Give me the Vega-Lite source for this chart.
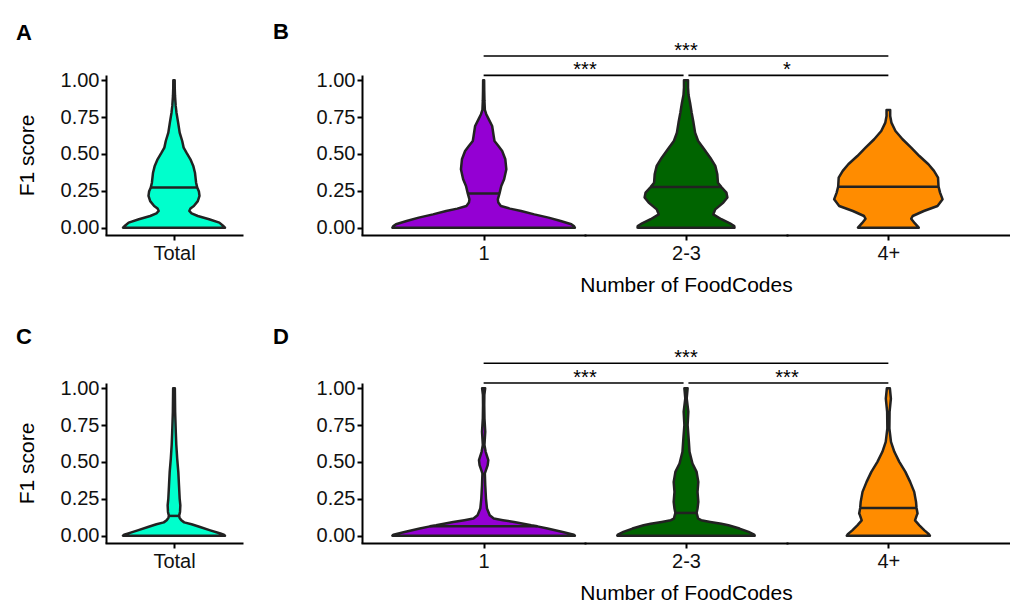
{
  "$schema": "https://vega.github.io/schema/vega-lite/v6.json",
  "background": "white",
  "padding": {"left": 16, "top": 21, "right": 0, "bottom": 0},
  "config": {
    "view": {"stroke": null},
    "font": "Liberation Sans",
    "axis": {"domainColor": "#000", "domainWidth": 2, "tickColor": "#000", "tickWidth": 2, "tickSize": 5, "labelFont": "Liberation Sans", "labelFontSize": 20, "labelColor": "#111", "labelPadding": 2, "titleFont": "Liberation Sans", "titleFontSize": 21, "titleFontWeight": "normal", "titleColor": "#000", "grid": false},
    "axisY": {"titlePadding": 23},
    "axisX": {"labelPadding": 3, "titlePadding": 11, "domainCap": "square"},
    "title": {"fontSize": 22, "fontWeight": "bold", "anchor": "start", "baseline": "alphabetic", "color": "#000", "font": "Liberation Sans"}
  },
  "datasets": {
    "violins": [
      {"panel": "A", "group": "Total", "f1": 0, "density": 0.9, "kind": "outline"},
      {"panel": "A", "group": "Total", "f1": 0.015, "density": 0.86, "kind": "outline"},
      {"panel": "A", "group": "Total", "f1": 0.034, "density": 0.8, "kind": "outline"},
      {"panel": "A", "group": "Total", "f1": 0.057, "density": 0.62, "kind": "outline"},
      {"panel": "A", "group": "Total", "f1": 0.079, "density": 0.42, "kind": "outline"},
      {"panel": "A", "group": "Total", "f1": 0.097, "density": 0.31, "kind": "outline"},
      {"panel": "A", "group": "Total", "f1": 0.113, "density": 0.27, "kind": "outline"},
      {"panel": "A", "group": "Total", "f1": 0.13, "density": 0.29, "kind": "outline"},
      {"panel": "A", "group": "Total", "f1": 0.147, "density": 0.35, "kind": "outline"},
      {"panel": "A", "group": "Total", "f1": 0.18, "density": 0.42, "kind": "outline"},
      {"panel": "A", "group": "Total", "f1": 0.215, "density": 0.45, "kind": "outline"},
      {"panel": "A", "group": "Total", "f1": 0.245, "density": 0.44, "kind": "outline"},
      {"panel": "A", "group": "Total", "f1": 0.2716, "density": 0.41, "kind": "median"},
      {"panel": "A", "group": "Total", "f1": 0.305, "density": 0.39, "kind": "outline"},
      {"panel": "A", "group": "Total", "f1": 0.373, "density": 0.37, "kind": "outline"},
      {"panel": "A", "group": "Total", "f1": 0.419, "density": 0.34, "kind": "outline"},
      {"panel": "A", "group": "Total", "f1": 0.464, "density": 0.29, "kind": "outline"},
      {"panel": "A", "group": "Total", "f1": 0.509, "density": 0.22, "kind": "outline"},
      {"panel": "A", "group": "Total", "f1": 0.543, "density": 0.17, "kind": "outline"},
      {"panel": "A", "group": "Total", "f1": 0.588, "density": 0.145, "kind": "outline"},
      {"panel": "A", "group": "Total", "f1": 0.645, "density": 0.1, "kind": "outline"},
      {"panel": "A", "group": "Total", "f1": 0.713, "density": 0.073, "kind": "outline"},
      {"panel": "A", "group": "Total", "f1": 0.78, "density": 0.044, "kind": "outline"},
      {"panel": "A", "group": "Total", "f1": 0.826, "density": 0.03, "kind": "outline"},
      {"panel": "A", "group": "Total", "f1": 0.894, "density": 0.018, "kind": "outline"},
      {"panel": "A", "group": "Total", "f1": 0.95, "density": 0.013, "kind": "outline"},
      {"panel": "A", "group": "Total", "f1": 1, "density": 0.012, "kind": "outline"},

      {"panel": "B", "group": "1", "f1": 0, "density": 0.9, "kind": "outline"},
      {"panel": "B", "group": "1", "f1": 0.011, "density": 0.89, "kind": "outline"},
      {"panel": "B", "group": "1", "f1": 0.023, "density": 0.865, "kind": "outline"},
      {"panel": "B", "group": "1", "f1": 0.045, "density": 0.76, "kind": "outline"},
      {"panel": "B", "group": "1", "f1": 0.068, "density": 0.64, "kind": "outline"},
      {"panel": "B", "group": "1", "f1": 0.09, "density": 0.5, "kind": "outline"},
      {"panel": "B", "group": "1", "f1": 0.113, "density": 0.37, "kind": "outline"},
      {"panel": "B", "group": "1", "f1": 0.129, "density": 0.26, "kind": "outline"},
      {"panel": "B", "group": "1", "f1": 0.147, "density": 0.17, "kind": "outline"},
      {"panel": "B", "group": "1", "f1": 0.17, "density": 0.145, "kind": "outline"},
      {"panel": "B", "group": "1", "f1": 0.192, "density": 0.14, "kind": "outline"},
      {"panel": "B", "group": "1", "f1": 0.231, "density": 0.156, "kind": "median"},
      {"panel": "B", "group": "1", "f1": 0.283, "density": 0.174, "kind": "outline"},
      {"panel": "B", "group": "1", "f1": 0.328, "density": 0.202, "kind": "outline"},
      {"panel": "B", "group": "1", "f1": 0.396, "density": 0.224, "kind": "outline"},
      {"panel": "B", "group": "1", "f1": 0.464, "density": 0.214, "kind": "outline"},
      {"panel": "B", "group": "1", "f1": 0.52, "density": 0.183, "kind": "outline"},
      {"panel": "B", "group": "1", "f1": 0.554, "density": 0.146, "kind": "outline"},
      {"panel": "B", "group": "1", "f1": 0.588, "density": 0.107, "kind": "outline"},
      {"panel": "B", "group": "1", "f1": 0.622, "density": 0.099, "kind": "outline"},
      {"panel": "B", "group": "1", "f1": 0.69, "density": 0.084, "kind": "outline"},
      {"panel": "B", "group": "1", "f1": 0.735, "density": 0.051, "kind": "outline"},
      {"panel": "B", "group": "1", "f1": 0.77, "density": 0.026, "kind": "outline"},
      {"panel": "B", "group": "1", "f1": 0.8, "density": 0.012, "kind": "outline"},
      {"panel": "B", "group": "1", "f1": 0.86, "density": 0.008, "kind": "outline"},
      {"panel": "B", "group": "1", "f1": 0.93, "density": 0.006, "kind": "outline"},
      {"panel": "B", "group": "1", "f1": 1, "density": 0.005, "kind": "outline"},

      {"panel": "B", "group": "2-3", "f1": 0, "density": 0.48, "kind": "outline"},
      {"panel": "B", "group": "2-3", "f1": 0.011, "density": 0.478, "kind": "outline"},
      {"panel": "B", "group": "2-3", "f1": 0.029, "density": 0.435, "kind": "outline"},
      {"panel": "B", "group": "2-3", "f1": 0.057, "density": 0.35, "kind": "outline"},
      {"panel": "B", "group": "2-3", "f1": 0.09, "density": 0.27, "kind": "outline"},
      {"panel": "B", "group": "2-3", "f1": 0.124, "density": 0.29, "kind": "outline"},
      {"panel": "B", "group": "2-3", "f1": 0.17, "density": 0.37, "kind": "outline"},
      {"panel": "B", "group": "2-3", "f1": 0.204, "density": 0.41, "kind": "outline"},
      {"panel": "B", "group": "2-3", "f1": 0.238, "density": 0.4, "kind": "outline"},
      {"panel": "B", "group": "2-3", "f1": 0.276, "density": 0.35, "kind": "median"},
      {"panel": "B", "group": "2-3", "f1": 0.305, "density": 0.316, "kind": "outline"},
      {"panel": "B", "group": "2-3", "f1": 0.362, "density": 0.31, "kind": "outline"},
      {"panel": "B", "group": "2-3", "f1": 0.419, "density": 0.29, "kind": "outline"},
      {"panel": "B", "group": "2-3", "f1": 0.475, "density": 0.24, "kind": "outline"},
      {"panel": "B", "group": "2-3", "f1": 0.532, "density": 0.18, "kind": "outline"},
      {"panel": "B", "group": "2-3", "f1": 0.588, "density": 0.12, "kind": "outline"},
      {"panel": "B", "group": "2-3", "f1": 0.645, "density": 0.09, "kind": "outline"},
      {"panel": "B", "group": "2-3", "f1": 0.713, "density": 0.074, "kind": "outline"},
      {"panel": "B", "group": "2-3", "f1": 0.78, "density": 0.056, "kind": "outline"},
      {"panel": "B", "group": "2-3", "f1": 0.848, "density": 0.04, "kind": "outline"},
      {"panel": "B", "group": "2-3", "f1": 0.9, "density": 0.025, "kind": "outline"},
      {"panel": "B", "group": "2-3", "f1": 0.95, "density": 0.02, "kind": "outline"},
      {"panel": "B", "group": "2-3", "f1": 1, "density": 0.02, "kind": "outline"},

      {"panel": "B", "group": "4+", "f1": 0, "density": 0.3, "kind": "outline"},
      {"panel": "B", "group": "4+", "f1": 0.03, "density": 0.26, "kind": "outline"},
      {"panel": "B", "group": "4+", "f1": 0.06, "density": 0.225, "kind": "outline"},
      {"panel": "B", "group": "4+", "f1": 0.079, "density": 0.24, "kind": "outline"},
      {"panel": "B", "group": "4+", "f1": 0.113, "density": 0.35, "kind": "outline"},
      {"panel": "B", "group": "4+", "f1": 0.147, "density": 0.485, "kind": "outline"},
      {"panel": "B", "group": "4+", "f1": 0.192, "density": 0.535, "kind": "outline"},
      {"panel": "B", "group": "4+", "f1": 0.238, "density": 0.51, "kind": "outline"},
      {"panel": "B", "group": "4+", "f1": 0.278, "density": 0.495, "kind": "median"},
      {"panel": "B", "group": "4+", "f1": 0.34, "density": 0.49, "kind": "outline"},
      {"panel": "B", "group": "4+", "f1": 0.385, "density": 0.45, "kind": "outline"},
      {"panel": "B", "group": "4+", "f1": 0.43, "density": 0.395, "kind": "outline"},
      {"panel": "B", "group": "4+", "f1": 0.486, "density": 0.306, "kind": "outline"},
      {"panel": "B", "group": "4+", "f1": 0.543, "density": 0.225, "kind": "outline"},
      {"panel": "B", "group": "4+", "f1": 0.6, "density": 0.14, "kind": "outline"},
      {"panel": "B", "group": "4+", "f1": 0.656, "density": 0.07, "kind": "outline"},
      {"panel": "B", "group": "4+", "f1": 0.713, "density": 0.03, "kind": "outline"},
      {"panel": "B", "group": "4+", "f1": 0.758, "density": 0.018, "kind": "outline"},
      {"panel": "B", "group": "4+", "f1": 0.798, "density": 0.018, "kind": "outline"},

      {"panel": "C", "group": "Total", "f1": 0, "density": 0.9, "kind": "outline"},
      {"panel": "C", "group": "Total", "f1": 0.007, "density": 0.88, "kind": "outline"},
      {"panel": "C", "group": "Total", "f1": 0.014, "density": 0.82, "kind": "outline"},
      {"panel": "C", "group": "Total", "f1": 0.036, "density": 0.64, "kind": "outline"},
      {"panel": "C", "group": "Total", "f1": 0.059, "density": 0.46, "kind": "outline"},
      {"panel": "C", "group": "Total", "f1": 0.077, "density": 0.31, "kind": "outline"},
      {"panel": "C", "group": "Total", "f1": 0.09, "density": 0.18, "kind": "outline"},
      {"panel": "C", "group": "Total", "f1": 0.104, "density": 0.13, "kind": "outline"},
      {"panel": "C", "group": "Total", "f1": 0.12, "density": 0.1, "kind": "outline"},
      {"panel": "C", "group": "Total", "f1": 0.134, "density": 0.09, "kind": "median"},
      {"panel": "C", "group": "Total", "f1": 0.161, "density": 0.106, "kind": "outline"},
      {"panel": "C", "group": "Total", "f1": 0.206, "density": 0.112, "kind": "outline"},
      {"panel": "C", "group": "Total", "f1": 0.252, "density": 0.1, "kind": "outline"},
      {"panel": "C", "group": "Total", "f1": 0.342, "density": 0.088, "kind": "outline"},
      {"panel": "C", "group": "Total", "f1": 0.433, "density": 0.076, "kind": "outline"},
      {"panel": "C", "group": "Total", "f1": 0.524, "density": 0.056, "kind": "outline"},
      {"panel": "C", "group": "Total", "f1": 0.615, "density": 0.041, "kind": "outline"},
      {"panel": "C", "group": "Total", "f1": 0.7, "density": 0.032, "kind": "outline"},
      {"panel": "C", "group": "Total", "f1": 0.841, "density": 0.02, "kind": "outline"},
      {"panel": "C", "group": "Total", "f1": 1, "density": 0.015, "kind": "outline"},

      {"panel": "D", "group": "1", "f1": 0, "density": 0.9, "kind": "outline"},
      {"panel": "D", "group": "1", "f1": 0.007, "density": 0.89, "kind": "outline"},
      {"panel": "D", "group": "1", "f1": 0.025, "density": 0.78, "kind": "outline"},
      {"panel": "D", "group": "1", "f1": 0.048, "density": 0.63, "kind": "outline"},
      {"panel": "D", "group": "1", "f1": 0.063, "density": 0.53, "kind": "median"},
      {"panel": "D", "group": "1", "f1": 0.07, "density": 0.47, "kind": "outline"},
      {"panel": "D", "group": "1", "f1": 0.093, "density": 0.3, "kind": "outline"},
      {"panel": "D", "group": "1", "f1": 0.105, "density": 0.19, "kind": "outline"},
      {"panel": "D", "group": "1", "f1": 0.116, "density": 0.1, "kind": "outline"},
      {"panel": "D", "group": "1", "f1": 0.138, "density": 0.06, "kind": "outline"},
      {"panel": "D", "group": "1", "f1": 0.184, "density": 0.033, "kind": "outline"},
      {"panel": "D", "group": "1", "f1": 0.252, "density": 0.023, "kind": "outline"},
      {"panel": "D", "group": "1", "f1": 0.342, "density": 0.016, "kind": "outline"},
      {"panel": "D", "group": "1", "f1": 0.422, "density": 0.012, "kind": "outline"},
      {"panel": "D", "group": "1", "f1": 0.478, "density": 0.04, "kind": "outline"},
      {"panel": "D", "group": "1", "f1": 0.513, "density": 0.046, "kind": "outline"},
      {"panel": "D", "group": "1", "f1": 0.569, "density": 0.02, "kind": "outline"},
      {"panel": "D", "group": "1", "f1": 0.615, "density": 0.008, "kind": "outline"},
      {"panel": "D", "group": "1", "f1": 0.705, "density": 0.016, "kind": "outline"},
      {"panel": "D", "group": "1", "f1": 0.796, "density": 0.008, "kind": "outline"},
      {"panel": "D", "group": "1", "f1": 0.887, "density": 0.006, "kind": "outline"},
      {"panel": "D", "group": "1", "f1": 0.955, "density": 0.007, "kind": "outline"},
      {"panel": "D", "group": "1", "f1": 1, "density": 0.015, "kind": "outline"},

      {"panel": "D", "group": "2-3", "f1": 0, "density": 0.68, "kind": "outline"},
      {"panel": "D", "group": "2-3", "f1": 0.007, "density": 0.675, "kind": "outline"},
      {"panel": "D", "group": "2-3", "f1": 0.025, "density": 0.62, "kind": "outline"},
      {"panel": "D", "group": "2-3", "f1": 0.048, "density": 0.53, "kind": "outline"},
      {"panel": "D", "group": "2-3", "f1": 0.07, "density": 0.42, "kind": "outline"},
      {"panel": "D", "group": "2-3", "f1": 0.08, "density": 0.35, "kind": "outline"},
      {"panel": "D", "group": "2-3", "f1": 0.093, "density": 0.24, "kind": "outline"},
      {"panel": "D", "group": "2-3", "f1": 0.105, "density": 0.15, "kind": "outline"},
      {"panel": "D", "group": "2-3", "f1": 0.116, "density": 0.12, "kind": "outline"},
      {"panel": "D", "group": "2-3", "f1": 0.154, "density": 0.105, "kind": "median"},
      {"panel": "D", "group": "2-3", "f1": 0.184, "density": 0.114, "kind": "outline"},
      {"panel": "D", "group": "2-3", "f1": 0.229, "density": 0.122, "kind": "outline"},
      {"panel": "D", "group": "2-3", "f1": 0.297, "density": 0.114, "kind": "outline"},
      {"panel": "D", "group": "2-3", "f1": 0.365, "density": 0.122, "kind": "outline"},
      {"panel": "D", "group": "2-3", "f1": 0.433, "density": 0.105, "kind": "outline"},
      {"panel": "D", "group": "2-3", "f1": 0.49, "density": 0.064, "kind": "outline"},
      {"panel": "D", "group": "2-3", "f1": 0.569, "density": 0.035, "kind": "outline"},
      {"panel": "D", "group": "2-3", "f1": 0.66, "density": 0.026, "kind": "outline"},
      {"panel": "D", "group": "2-3", "f1": 0.75, "density": 0.016, "kind": "outline"},
      {"panel": "D", "group": "2-3", "f1": 0.841, "density": 0.023, "kind": "outline"},
      {"panel": "D", "group": "2-3", "f1": 0.932, "density": 0.007, "kind": "outline"},
      {"panel": "D", "group": "2-3", "f1": 1, "density": 0.016, "kind": "outline"},

      {"panel": "D", "group": "4+", "f1": 0, "density": 0.41, "kind": "outline"},
      {"panel": "D", "group": "4+", "f1": 0.01, "density": 0.4, "kind": "outline"},
      {"panel": "D", "group": "4+", "f1": 0.036, "density": 0.356, "kind": "outline"},
      {"panel": "D", "group": "4+", "f1": 0.07, "density": 0.306, "kind": "outline"},
      {"panel": "D", "group": "4+", "f1": 0.104, "density": 0.263, "kind": "outline"},
      {"panel": "D", "group": "4+", "f1": 0.138, "density": 0.28, "kind": "outline"},
      {"panel": "D", "group": "4+", "f1": 0.15, "density": 0.288, "kind": "outline"},
      {"panel": "D", "group": "4+", "f1": 0.188, "density": 0.278, "kind": "median"},
      {"panel": "D", "group": "4+", "f1": 0.229, "density": 0.273, "kind": "outline"},
      {"panel": "D", "group": "4+", "f1": 0.297, "density": 0.255, "kind": "outline"},
      {"panel": "D", "group": "4+", "f1": 0.365, "density": 0.215, "kind": "outline"},
      {"panel": "D", "group": "4+", "f1": 0.433, "density": 0.168, "kind": "outline"},
      {"panel": "D", "group": "4+", "f1": 0.501, "density": 0.108, "kind": "outline"},
      {"panel": "D", "group": "4+", "f1": 0.569, "density": 0.059, "kind": "outline"},
      {"panel": "D", "group": "4+", "f1": 0.637, "density": 0.026, "kind": "outline"},
      {"panel": "D", "group": "4+", "f1": 0.728, "density": 0.01, "kind": "outline"},
      {"panel": "D", "group": "4+", "f1": 0.84, "density": 0.012, "kind": "outline"},
      {"panel": "D", "group": "4+", "f1": 0.93, "density": 0.025, "kind": "outline"},
      {"panel": "D", "group": "4+", "f1": 1, "density": 0.015, "kind": "outline"}
    ],
    "signif": [
      {"panel": "B", "comparison": "1 vs 2-3", "label": "***"},
      {"panel": "B", "comparison": "2-3 vs 4+", "label": "*"},
      {"panel": "B", "comparison": "1 vs 4+", "label": "***"},
      {"panel": "D", "comparison": "1 vs 2-3", "label": "***"},
      {"panel": "D", "comparison": "2-3 vs 4+", "label": "***"},
      {"panel": "D", "comparison": "1 vs 4+", "label": "***"}
    ]
  },
  "spacing": 31,
  "vconcat": [
    {
      "spacing": 31,
      "hconcat": [
        {
          "title": {"text": "A", "offset": 25},
          "width": 136, "height": 160,
          "layer": [
            {"data": {"name": "violins"}, "transform": [{"filter": "datum.panel === 'A'"}, {"stack": "density", "groupby": ["f1"], "offset": "center", "as": ["x0", "x1"]}],
             "mark": {"type": "area", "orient": "horizontal", "fill": "#00FFCC", "stroke": "#222", "strokeWidth": 2.5, "strokeJoin": "round"},
             "encoding": {
               "y": {"field": "f1", "type": "quantitative", "scale": {"domain": [-0.05, 1.036], "nice": false, "zero": false}, "axis": {"values": [0, 0.25, 0.5, 0.75, 1], "format": ".2f", "title": "F1 score"}},
               "x": {"field": "x0", "type": "quantitative", "scale": {"domain": [-0.15, 1.05], "nice": false, "zero": false}, "axis": {"values": [0.45], "labelExpr": "'Total'", "title": null}}, "x2": {"field": "x1"}}},
            {"data": {"name": "violins"}, "transform": [{"filter": "datum.panel === 'A'"}, {"stack": "density", "groupby": ["f1"], "offset": "center", "as": ["x0", "x1"]}, {"filter": "datum.kind === 'median'"}],
             "mark": {"type": "rule", "stroke": "#222", "strokeWidth": 2.5},
             "encoding": {
               "y": {"field": "f1", "type": "quantitative", "scale": {"domain": [-0.05, 1.036], "nice": false, "zero": false}, "axis": {"values": [0, 0.25, 0.5, 0.75, 1], "format": ".2f", "title": "F1 score"}},
               "x": {"field": "x0", "type": "quantitative", "scale": {"domain": [-0.15, 1.05], "nice": false, "zero": false}, "axis": {"values": [0.45], "labelExpr": "'Total'", "title": null}}, "x2": {"field": "x1"}}}
          ]
        },
        {
          "spacing": 0,
          "bounds": "flush",
          "hconcat": [
            {
              "title": {"text": "B", "offset": 11, "dx": -43},
              "width": 223, "height": 160,
              "layer": [
                {"data": {"name": "violins"}, "transform": [{"filter": "datum.panel === 'B' && datum.group === '1'"}, {"stack": "density", "groupby": ["f1"], "offset": "center", "as": ["x0", "x1"]}],
                 "mark": {"type": "area", "orient": "horizontal", "fill": "#9400D3", "stroke": "#222", "strokeWidth": 2.5, "strokeJoin": "round"},
                 "encoding": {
                   "y": {"field": "f1", "type": "quantitative", "scale": {"domain": [-0.05, 1.036], "nice": false, "zero": false}, "axis": {"values": [0, 0.25, 0.5, 0.75, 1], "format": ".2f", "title": null}},
                   "x": {"field": "x0", "type": "quantitative", "scale": {"domain": [-0.15, 0.95], "nice": false, "zero": false}, "axis": {"values": [0.45], "labelExpr": "'1'", "title": null}}, "x2": {"field": "x1"}}},
                {"data": {"name": "violins"}, "transform": [{"filter": "datum.panel === 'B' && datum.group === '1'"}, {"stack": "density", "groupby": ["f1"], "offset": "center", "as": ["x0", "x1"]}, {"filter": "datum.kind === 'median'"}],
                 "mark": {"type": "rule", "stroke": "#222", "strokeWidth": 2.5},
                 "encoding": {
                   "y": {"field": "f1", "type": "quantitative", "scale": {"domain": [-0.05, 1.036], "nice": false, "zero": false}, "axis": {"values": [0, 0.25, 0.5, 0.75, 1], "format": ".2f", "title": null}},
                   "x": {"field": "x0", "type": "quantitative", "scale": {"domain": [-0.15, 0.95], "nice": false, "zero": false}, "axis": {"values": [0.45], "labelExpr": "'1'", "title": null}}, "x2": {"field": "x1"}}},
                {"data": {"name": "signif"}, "transform": [{"filter": "datum.panel === 'B' && datum.comparison === '1 vs 2-3'"}],
                 "mark": {"type": "rule", "color": "#000", "strokeWidth": 1.7},
                 "encoding": {
                   "y": {"datum": 1.034, "type": "quantitative", "scale": {"domain": [-0.05, 1.036], "nice": false, "zero": false}, "axis": {"values": [0, 0.25, 0.5, 0.75, 1], "format": ".2f", "title": null}},
                   "x": {"datum": 0.45, "type": "quantitative", "scale": {"domain": [-0.15, 0.95], "nice": false, "zero": false}, "axis": {"values": [0.45], "labelExpr": "'1'", "title": null}}, "x2": {"datum": 0.95}}},
                {"data": {"name": "signif"}, "transform": [{"filter": "datum.panel === 'B' && datum.comparison === '1 vs 4+'"}],
                 "mark": {"type": "rule", "color": "#000", "strokeWidth": 1.7},
                 "encoding": {
                   "y": {"datum": 1.165, "type": "quantitative", "scale": {"domain": [-0.05, 1.036], "nice": false, "zero": false}, "axis": {"values": [0, 0.25, 0.5, 0.75, 1], "format": ".2f", "title": null}},
                   "x": {"datum": 0.45, "type": "quantitative", "scale": {"domain": [-0.15, 0.95], "nice": false, "zero": false}, "axis": {"values": [0.45], "labelExpr": "'1'", "title": null}}, "x2": {"datum": 0.95}}},
                {"data": {"name": "signif"}, "transform": [{"filter": "datum.panel === 'B' && datum.comparison === '1 vs 2-3'"}],
                 "mark": {"type": "text", "fontSize": 20, "baseline": "alphabetic", "dy": 1, "color": "#000"},
                 "encoding": {
                   "y": {"datum": 1.034, "type": "quantitative", "scale": {"domain": [-0.05, 1.036], "nice": false, "zero": false}, "axis": {"values": [0, 0.25, 0.5, 0.75, 1], "format": ".2f", "title": null}},
                   "x": {"datum": 0.95, "type": "quantitative", "scale": {"domain": [-0.15, 0.95], "nice": false, "zero": false}, "axis": {"values": [0.45], "labelExpr": "'1'", "title": null}},
                   "text": {"field": "label"}}}
              ]
            },
            {
              "width": 202, "height": 160,
              "layer": [
                {"data": {"name": "violins"}, "transform": [{"filter": "datum.panel === 'B' && datum.group === '2-3'"}, {"stack": "density", "groupby": ["f1"], "offset": "center", "as": ["x0", "x1"]}],
                 "mark": {"type": "area", "orient": "horizontal", "fill": "#006400", "stroke": "#222", "strokeWidth": 2.5, "strokeJoin": "round"},
                 "encoding": {
                   "y": {"field": "f1", "type": "quantitative", "scale": {"domain": [-0.05, 1.036], "nice": false, "zero": false}, "axis": null},
                   "x": {"field": "x0", "type": "quantitative", "scale": {"domain": [-0.26, 0.74], "nice": false, "zero": false}, "axis": {"values": [0.24], "labelExpr": "'2-3'", "title": "Number of FoodCodes"}}, "x2": {"field": "x1"}}},
                {"data": {"name": "violins"}, "transform": [{"filter": "datum.panel === 'B' && datum.group === '2-3'"}, {"stack": "density", "groupby": ["f1"], "offset": "center", "as": ["x0", "x1"]}, {"filter": "datum.kind === 'median'"}],
                 "mark": {"type": "rule", "stroke": "#222", "strokeWidth": 2.5},
                 "encoding": {
                   "y": {"field": "f1", "type": "quantitative", "scale": {"domain": [-0.05, 1.036], "nice": false, "zero": false}, "axis": null},
                   "x": {"field": "x0", "type": "quantitative", "scale": {"domain": [-0.26, 0.74], "nice": false, "zero": false}, "axis": {"values": [0.24], "labelExpr": "'2-3'", "title": "Number of FoodCodes"}}, "x2": {"field": "x1"}}},
                {"data": {"name": "signif"}, "transform": [{"filter": "datum.panel === 'B' && datum.comparison === '1 vs 2-3'"}],
                 "mark": {"type": "rule", "color": "#000", "strokeWidth": 1.7},
                 "encoding": {
                   "y": {"datum": 1.034, "type": "quantitative", "scale": {"domain": [-0.05, 1.036], "nice": false, "zero": false}, "axis": null},
                   "x": {"datum": -0.26, "type": "quantitative", "scale": {"domain": [-0.26, 0.74], "nice": false, "zero": false}, "axis": {"values": [0.24], "labelExpr": "'2-3'", "title": "Number of FoodCodes"}}, "x2": {"datum": 0.228}}},
                {"data": {"name": "signif"}, "transform": [{"filter": "datum.panel === 'B' && datum.comparison === '2-3 vs 4+'"}],
                 "mark": {"type": "rule", "color": "#000", "strokeWidth": 1.7},
                 "encoding": {
                   "y": {"datum": 1.034, "type": "quantitative", "scale": {"domain": [-0.05, 1.036], "nice": false, "zero": false}, "axis": null},
                   "x": {"datum": 0.252, "type": "quantitative", "scale": {"domain": [-0.26, 0.74], "nice": false, "zero": false}, "axis": {"values": [0.24], "labelExpr": "'2-3'", "title": "Number of FoodCodes"}}, "x2": {"datum": 0.74}}},
                {"data": {"name": "signif"}, "transform": [{"filter": "datum.panel === 'B' && datum.comparison === '1 vs 4+'"}],
                 "mark": {"type": "rule", "color": "#000", "strokeWidth": 1.7},
                 "encoding": {
                   "y": {"datum": 1.165, "type": "quantitative", "scale": {"domain": [-0.05, 1.036], "nice": false, "zero": false}, "axis": null},
                   "x": {"datum": -0.26, "type": "quantitative", "scale": {"domain": [-0.26, 0.74], "nice": false, "zero": false}, "axis": {"values": [0.24], "labelExpr": "'2-3'", "title": "Number of FoodCodes"}}, "x2": {"datum": 0.74}}},
                {"data": {"name": "signif"}, "transform": [{"filter": "datum.panel === 'B' && datum.comparison === '1 vs 4+'"}],
                 "mark": {"type": "text", "fontSize": 20, "baseline": "alphabetic", "dy": 1, "color": "#000"},
                 "encoding": {
                   "y": {"datum": 1.165, "type": "quantitative", "scale": {"domain": [-0.05, 1.036], "nice": false, "zero": false}, "axis": null},
                   "x": {"datum": 0.24, "type": "quantitative", "scale": {"domain": [-0.26, 0.74], "nice": false, "zero": false}, "axis": {"values": [0.24], "labelExpr": "'2-3'", "title": "Number of FoodCodes"}},
                   "text": {"field": "label"}}},
                {"data": {"name": "signif"}, "transform": [{"filter": "datum.panel === 'B' && datum.comparison === '2-3 vs 4+'"}],
                 "mark": {"type": "text", "fontSize": 20, "baseline": "alphabetic", "dy": 1, "color": "#000"},
                 "encoding": {
                   "y": {"datum": 1.034, "type": "quantitative", "scale": {"domain": [-0.05, 1.036], "nice": false, "zero": false}, "axis": null},
                   "x": {"datum": 0.74, "type": "quantitative", "scale": {"domain": [-0.26, 0.74], "nice": false, "zero": false}, "axis": {"values": [0.24], "labelExpr": "'2-3'", "title": "Number of FoodCodes"}},
                   "text": {"field": "label"}}}
              ]
            },
            {
              "width": 223, "height": 160,
              "layer": [
                {"data": {"name": "violins"}, "transform": [{"filter": "datum.panel === 'B' && datum.group === '4+'"}, {"stack": "density", "groupby": ["f1"], "offset": "center", "as": ["x0", "x1"]}],
                 "mark": {"type": "area", "orient": "horizontal", "fill": "#FF8C00", "stroke": "#222", "strokeWidth": 2.5, "strokeJoin": "round"},
                 "encoding": {
                   "y": {"field": "f1", "type": "quantitative", "scale": {"domain": [-0.05, 1.036], "nice": false, "zero": false}, "axis": null},
                   "x": {"field": "x0", "type": "quantitative", "scale": {"domain": [-0.2325, 0.8675], "nice": false, "zero": false}, "axis": {"values": [0.2675], "labelExpr": "'4+'", "title": null}}, "x2": {"field": "x1"}}},
                {"data": {"name": "violins"}, "transform": [{"filter": "datum.panel === 'B' && datum.group === '4+'"}, {"stack": "density", "groupby": ["f1"], "offset": "center", "as": ["x0", "x1"]}, {"filter": "datum.kind === 'median'"}],
                 "mark": {"type": "rule", "stroke": "#222", "strokeWidth": 2.5},
                 "encoding": {
                   "y": {"field": "f1", "type": "quantitative", "scale": {"domain": [-0.05, 1.036], "nice": false, "zero": false}, "axis": null},
                   "x": {"field": "x0", "type": "quantitative", "scale": {"domain": [-0.2325, 0.8675], "nice": false, "zero": false}, "axis": {"values": [0.2675], "labelExpr": "'4+'", "title": null}}, "x2": {"field": "x1"}}},
                {"data": {"name": "signif"}, "transform": [{"filter": "datum.panel === 'B' && datum.comparison === '2-3 vs 4+'"}],
                 "mark": {"type": "rule", "color": "#000", "strokeWidth": 1.7},
                 "encoding": {
                   "y": {"datum": 1.034, "type": "quantitative", "scale": {"domain": [-0.05, 1.036], "nice": false, "zero": false}, "axis": null},
                   "x": {"datum": -0.2325, "type": "quantitative", "scale": {"domain": [-0.2325, 0.8675], "nice": false, "zero": false}, "axis": {"values": [0.2675], "labelExpr": "'4+'", "title": null}}, "x2": {"datum": 0.2675}}},
                {"data": {"name": "signif"}, "transform": [{"filter": "datum.panel === 'B' && datum.comparison === '1 vs 4+'"}],
                 "mark": {"type": "rule", "color": "#000", "strokeWidth": 1.7},
                 "encoding": {
                   "y": {"datum": 1.165, "type": "quantitative", "scale": {"domain": [-0.05, 1.036], "nice": false, "zero": false}, "axis": null},
                   "x": {"datum": -0.2325, "type": "quantitative", "scale": {"domain": [-0.2325, 0.8675], "nice": false, "zero": false}, "axis": {"values": [0.2675], "labelExpr": "'4+'", "title": null}}, "x2": {"datum": 0.2675}}}
              ]
            }
          ]
        }
      ]
    },
    {
      "spacing": 31,
      "hconcat": [
        {
          "title": {"text": "C", "offset": 29},
          "width": 136, "height": 160,
          "layer": [
            {"data": {"name": "violins"}, "transform": [{"filter": "datum.panel === 'C'"}, {"stack": "density", "groupby": ["f1"], "offset": "center", "as": ["x0", "x1"]}],
             "mark": {"type": "area", "orient": "horizontal", "fill": "#00FFCC", "stroke": "#222", "strokeWidth": 2.5, "strokeJoin": "round"},
             "encoding": {
               "y": {"field": "f1", "type": "quantitative", "scale": {"domain": [-0.05, 1.036], "nice": false, "zero": false}, "axis": {"values": [0, 0.25, 0.5, 0.75, 1], "format": ".2f", "title": "F1 score"}},
               "x": {"field": "x0", "type": "quantitative", "scale": {"domain": [-0.15, 1.05], "nice": false, "zero": false}, "axis": {"values": [0.45], "labelExpr": "'Total'", "title": null}}, "x2": {"field": "x1"}}},
            {"data": {"name": "violins"}, "transform": [{"filter": "datum.panel === 'C'"}, {"stack": "density", "groupby": ["f1"], "offset": "center", "as": ["x0", "x1"]}, {"filter": "datum.kind === 'median'"}],
             "mark": {"type": "rule", "stroke": "#222", "strokeWidth": 2.5},
             "encoding": {
               "y": {"field": "f1", "type": "quantitative", "scale": {"domain": [-0.05, 1.036], "nice": false, "zero": false}, "axis": {"values": [0, 0.25, 0.5, 0.75, 1], "format": ".2f", "title": "F1 score"}},
               "x": {"field": "x0", "type": "quantitative", "scale": {"domain": [-0.15, 1.05], "nice": false, "zero": false}, "axis": {"values": [0.45], "labelExpr": "'Total'", "title": null}}, "x2": {"field": "x1"}}}
          ]
        },
        {
          "spacing": 0,
          "bounds": "flush",
          "hconcat": [
            {
              "title": {"text": "D", "offset": 13, "dx": -43},
              "width": 223, "height": 160,
              "layer": [
                {"data": {"name": "violins"}, "transform": [{"filter": "datum.panel === 'D' && datum.group === '1'"}, {"stack": "density", "groupby": ["f1"], "offset": "center", "as": ["x0", "x1"]}],
                 "mark": {"type": "area", "orient": "horizontal", "fill": "#9400D3", "stroke": "#222", "strokeWidth": 2.5, "strokeJoin": "round"},
                 "encoding": {
                   "y": {"field": "f1", "type": "quantitative", "scale": {"domain": [-0.05, 1.036], "nice": false, "zero": false}, "axis": {"values": [0, 0.25, 0.5, 0.75, 1], "format": ".2f", "title": null}},
                   "x": {"field": "x0", "type": "quantitative", "scale": {"domain": [-0.15, 0.95], "nice": false, "zero": false}, "axis": {"values": [0.45], "labelExpr": "'1'", "title": null}}, "x2": {"field": "x1"}}},
                {"data": {"name": "violins"}, "transform": [{"filter": "datum.panel === 'D' && datum.group === '1'"}, {"stack": "density", "groupby": ["f1"], "offset": "center", "as": ["x0", "x1"]}, {"filter": "datum.kind === 'median'"}],
                 "mark": {"type": "rule", "stroke": "#222", "strokeWidth": 2.5},
                 "encoding": {
                   "y": {"field": "f1", "type": "quantitative", "scale": {"domain": [-0.05, 1.036], "nice": false, "zero": false}, "axis": {"values": [0, 0.25, 0.5, 0.75, 1], "format": ".2f", "title": null}},
                   "x": {"field": "x0", "type": "quantitative", "scale": {"domain": [-0.15, 0.95], "nice": false, "zero": false}, "axis": {"values": [0.45], "labelExpr": "'1'", "title": null}}, "x2": {"field": "x1"}}},
                {"data": {"name": "signif"}, "transform": [{"filter": "datum.panel === 'D' && datum.comparison === '1 vs 2-3'"}],
                 "mark": {"type": "rule", "color": "#000", "strokeWidth": 1.7},
                 "encoding": {
                   "y": {"datum": 1.036, "type": "quantitative", "scale": {"domain": [-0.05, 1.036], "nice": false, "zero": false}, "axis": {"values": [0, 0.25, 0.5, 0.75, 1], "format": ".2f", "title": null}},
                   "x": {"datum": 0.45, "type": "quantitative", "scale": {"domain": [-0.15, 0.95], "nice": false, "zero": false}, "axis": {"values": [0.45], "labelExpr": "'1'", "title": null}}, "x2": {"datum": 0.95}}},
                {"data": {"name": "signif"}, "transform": [{"filter": "datum.panel === 'D' && datum.comparison === '1 vs 4+'"}],
                 "mark": {"type": "rule", "color": "#000", "strokeWidth": 1.7},
                 "encoding": {
                   "y": {"datum": 1.17, "type": "quantitative", "scale": {"domain": [-0.05, 1.036], "nice": false, "zero": false}, "axis": {"values": [0, 0.25, 0.5, 0.75, 1], "format": ".2f", "title": null}},
                   "x": {"datum": 0.45, "type": "quantitative", "scale": {"domain": [-0.15, 0.95], "nice": false, "zero": false}, "axis": {"values": [0.45], "labelExpr": "'1'", "title": null}}, "x2": {"datum": 0.95}}},
                {"data": {"name": "signif"}, "transform": [{"filter": "datum.panel === 'D' && datum.comparison === '1 vs 2-3'"}],
                 "mark": {"type": "text", "fontSize": 20, "baseline": "alphabetic", "dy": 1, "color": "#000"},
                 "encoding": {
                   "y": {"datum": 1.036, "type": "quantitative", "scale": {"domain": [-0.05, 1.036], "nice": false, "zero": false}, "axis": {"values": [0, 0.25, 0.5, 0.75, 1], "format": ".2f", "title": null}},
                   "x": {"datum": 0.95, "type": "quantitative", "scale": {"domain": [-0.15, 0.95], "nice": false, "zero": false}, "axis": {"values": [0.45], "labelExpr": "'1'", "title": null}},
                   "text": {"field": "label"}}}
              ]
            },
            {
              "width": 202, "height": 160,
              "layer": [
                {"data": {"name": "violins"}, "transform": [{"filter": "datum.panel === 'D' && datum.group === '2-3'"}, {"stack": "density", "groupby": ["f1"], "offset": "center", "as": ["x0", "x1"]}],
                 "mark": {"type": "area", "orient": "horizontal", "fill": "#006400", "stroke": "#222", "strokeWidth": 2.5, "strokeJoin": "round"},
                 "encoding": {
                   "y": {"field": "f1", "type": "quantitative", "scale": {"domain": [-0.05, 1.036], "nice": false, "zero": false}, "axis": null},
                   "x": {"field": "x0", "type": "quantitative", "scale": {"domain": [-0.16, 0.84], "nice": false, "zero": false}, "axis": {"values": [0.34], "labelExpr": "'2-3'", "title": "Number of FoodCodes"}}, "x2": {"field": "x1"}}},
                {"data": {"name": "violins"}, "transform": [{"filter": "datum.panel === 'D' && datum.group === '2-3'"}, {"stack": "density", "groupby": ["f1"], "offset": "center", "as": ["x0", "x1"]}, {"filter": "datum.kind === 'median'"}],
                 "mark": {"type": "rule", "stroke": "#222", "strokeWidth": 2.5},
                 "encoding": {
                   "y": {"field": "f1", "type": "quantitative", "scale": {"domain": [-0.05, 1.036], "nice": false, "zero": false}, "axis": null},
                   "x": {"field": "x0", "type": "quantitative", "scale": {"domain": [-0.16, 0.84], "nice": false, "zero": false}, "axis": {"values": [0.34], "labelExpr": "'2-3'", "title": "Number of FoodCodes"}}, "x2": {"field": "x1"}}},
                {"data": {"name": "signif"}, "transform": [{"filter": "datum.panel === 'D' && datum.comparison === '1 vs 2-3'"}],
                 "mark": {"type": "rule", "color": "#000", "strokeWidth": 1.7},
                 "encoding": {
                   "y": {"datum": 1.036, "type": "quantitative", "scale": {"domain": [-0.05, 1.036], "nice": false, "zero": false}, "axis": null},
                   "x": {"datum": -0.16, "type": "quantitative", "scale": {"domain": [-0.16, 0.84], "nice": false, "zero": false}, "axis": {"values": [0.34], "labelExpr": "'2-3'", "title": "Number of FoodCodes"}}, "x2": {"datum": 0.328}}},
                {"data": {"name": "signif"}, "transform": [{"filter": "datum.panel === 'D' && datum.comparison === '2-3 vs 4+'"}],
                 "mark": {"type": "rule", "color": "#000", "strokeWidth": 1.7},
                 "encoding": {
                   "y": {"datum": 1.036, "type": "quantitative", "scale": {"domain": [-0.05, 1.036], "nice": false, "zero": false}, "axis": null},
                   "x": {"datum": 0.352, "type": "quantitative", "scale": {"domain": [-0.16, 0.84], "nice": false, "zero": false}, "axis": {"values": [0.34], "labelExpr": "'2-3'", "title": "Number of FoodCodes"}}, "x2": {"datum": 0.84}}},
                {"data": {"name": "signif"}, "transform": [{"filter": "datum.panel === 'D' && datum.comparison === '1 vs 4+'"}],
                 "mark": {"type": "rule", "color": "#000", "strokeWidth": 1.7},
                 "encoding": {
                   "y": {"datum": 1.17, "type": "quantitative", "scale": {"domain": [-0.05, 1.036], "nice": false, "zero": false}, "axis": null},
                   "x": {"datum": -0.16, "type": "quantitative", "scale": {"domain": [-0.16, 0.84], "nice": false, "zero": false}, "axis": {"values": [0.34], "labelExpr": "'2-3'", "title": "Number of FoodCodes"}}, "x2": {"datum": 0.84}}},
                {"data": {"name": "signif"}, "transform": [{"filter": "datum.panel === 'D' && datum.comparison === '1 vs 4+'"}],
                 "mark": {"type": "text", "fontSize": 20, "baseline": "alphabetic", "dy": 1, "color": "#000"},
                 "encoding": {
                   "y": {"datum": 1.17, "type": "quantitative", "scale": {"domain": [-0.05, 1.036], "nice": false, "zero": false}, "axis": null},
                   "x": {"datum": 0.34, "type": "quantitative", "scale": {"domain": [-0.16, 0.84], "nice": false, "zero": false}, "axis": {"values": [0.34], "labelExpr": "'2-3'", "title": "Number of FoodCodes"}},
                   "text": {"field": "label"}}},
                {"data": {"name": "signif"}, "transform": [{"filter": "datum.panel === 'D' && datum.comparison === '2-3 vs 4+'"}],
                 "mark": {"type": "text", "fontSize": 20, "baseline": "alphabetic", "dy": 1, "color": "#000"},
                 "encoding": {
                   "y": {"datum": 1.036, "type": "quantitative", "scale": {"domain": [-0.05, 1.036], "nice": false, "zero": false}, "axis": null},
                   "x": {"datum": 0.84, "type": "quantitative", "scale": {"domain": [-0.16, 0.84], "nice": false, "zero": false}, "axis": {"values": [0.34], "labelExpr": "'2-3'", "title": "Number of FoodCodes"}},
                   "text": {"field": "label"}}}
              ]
            },
            {
              "width": 223, "height": 160,
              "layer": [
                {"data": {"name": "violins"}, "transform": [{"filter": "datum.panel === 'D' && datum.group === '4+'"}, {"stack": "density", "groupby": ["f1"], "offset": "center", "as": ["x0", "x1"]}],
                 "mark": {"type": "area", "orient": "horizontal", "fill": "#FF8C00", "stroke": "#222", "strokeWidth": 2.5, "strokeJoin": "round"},
                 "encoding": {
                   "y": {"field": "f1", "type": "quantitative", "scale": {"domain": [-0.05, 1.036], "nice": false, "zero": false}, "axis": null},
                   "x": {"field": "x0", "type": "quantitative", "scale": {"domain": [-0.295, 0.805], "nice": false, "zero": false}, "axis": {"values": [0.205], "labelExpr": "'4+'", "title": null}}, "x2": {"field": "x1"}}},
                {"data": {"name": "violins"}, "transform": [{"filter": "datum.panel === 'D' && datum.group === '4+'"}, {"stack": "density", "groupby": ["f1"], "offset": "center", "as": ["x0", "x1"]}, {"filter": "datum.kind === 'median'"}],
                 "mark": {"type": "rule", "stroke": "#222", "strokeWidth": 2.5},
                 "encoding": {
                   "y": {"field": "f1", "type": "quantitative", "scale": {"domain": [-0.05, 1.036], "nice": false, "zero": false}, "axis": null},
                   "x": {"field": "x0", "type": "quantitative", "scale": {"domain": [-0.295, 0.805], "nice": false, "zero": false}, "axis": {"values": [0.205], "labelExpr": "'4+'", "title": null}}, "x2": {"field": "x1"}}},
                {"data": {"name": "signif"}, "transform": [{"filter": "datum.panel === 'D' && datum.comparison === '2-3 vs 4+'"}],
                 "mark": {"type": "rule", "color": "#000", "strokeWidth": 1.7},
                 "encoding": {
                   "y": {"datum": 1.036, "type": "quantitative", "scale": {"domain": [-0.05, 1.036], "nice": false, "zero": false}, "axis": null},
                   "x": {"datum": -0.295, "type": "quantitative", "scale": {"domain": [-0.295, 0.805], "nice": false, "zero": false}, "axis": {"values": [0.205], "labelExpr": "'4+'", "title": null}}, "x2": {"datum": 0.205}}},
                {"data": {"name": "signif"}, "transform": [{"filter": "datum.panel === 'D' && datum.comparison === '1 vs 4+'"}],
                 "mark": {"type": "rule", "color": "#000", "strokeWidth": 1.7},
                 "encoding": {
                   "y": {"datum": 1.17, "type": "quantitative", "scale": {"domain": [-0.05, 1.036], "nice": false, "zero": false}, "axis": null},
                   "x": {"datum": -0.295, "type": "quantitative", "scale": {"domain": [-0.295, 0.805], "nice": false, "zero": false}, "axis": {"values": [0.205], "labelExpr": "'4+'", "title": null}}, "x2": {"datum": 0.205}}}
              ]
            }
          ]
        }
      ]
    }
  ]
}
